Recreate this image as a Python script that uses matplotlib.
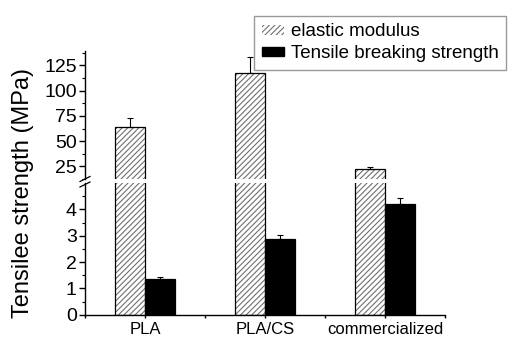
import matplotlib
matplotlib.use("Agg")
import matplotlib.pyplot as plt
from matplotlib.patches import Patch
from matplotlib.lines import Line2D
import numpy as np

plt.rcParams['font.family'] = ['Liberation Sans', 'DejaVu Sans']
plt.rcParams['hatch.linewidth'] = 0.8

categories = ["PLA", "PLA/CS", "commercialized"]
elastic_modulus = [64.5, 118.0, 22.0]
elastic_err = [8.5, 15.5, 2.8]
breaking_strength = [1.34, 2.88, 4.19]
breaking_err = [0.08, 0.15, 0.24]
series_names = ["elastic modulus", "Tensile breaking strength"]

W, H = 513, 337
fig = plt.figure(figsize=(W / 100, H / 100), dpi=100)

left = 85 / W
width = 360 / W
ax_top = fig.add_axes([left, (H - 179) / H, width, 128 / H])
ax_bot = fig.add_axes([left, (H - 314.7) / H, width, 131.7 / H])

x = np.arange(1, len(categories) + 1)
bw = 0.25
hatch_col = "#707070"

for ax in (ax_top, ax_bot):
    ax.bar(x - bw / 2, elastic_modulus, bw, color="white", edgecolor=hatch_col,
           hatch="//////", linewidth=0, zorder=2)
    ax.bar(x - bw / 2, elastic_modulus, bw, fill=False, edgecolor="black",
           linewidth=0.9, zorder=3)
    ax.bar(x + bw / 2, breaking_strength, bw, color="black", edgecolor="black",
           linewidth=0.9, zorder=3)
    ax.set_xlim(0.5, 3.5)
    for s in ("top", "right"):
        ax.spines[s].set_visible(False)
    ax.spines["left"].set_linewidth(1.0)
    ax.spines["bottom"].set_linewidth(1.0)
    ax.tick_params(axis="y", direction="out", length=4, width=1.0,
                   labelsize=14, pad=2)
    ax.tick_params(axis="y", which="minor", direction="out", length=2.5, width=0.8)

ax_top.errorbar(x - bw / 2, elastic_modulus, yerr=[[0] * 3, elastic_err],
                fmt="none", ecolor="black", elinewidth=0.8, capsize=2.5,
                capthick=0.8, zorder=4)
ax_bot.errorbar(x + bw / 2, breaking_strength, yerr=[[0] * 3, breaking_err],
                fmt="none", ecolor="black", elinewidth=0.8, capsize=2.5,
                capthick=0.8, zorder=4)

ax_top.set_ylim(15.3, 139.3)
ax_top.set_yticks([25, 50, 75, 100, 125])
ax_top.set_yticks(np.arange(12.5, 139, 12.5), minor=True)
ax_top.spines["bottom"].set_visible(False)
ax_top.tick_params(axis="x", which="both", bottom=False, labelbottom=False)

ax_bot.set_ylim(0, 5.0)
ax_bot.set_yticks([0, 1, 2, 3, 4])
ax_bot.set_yticks(np.arange(0.5, 5.0, 1.0), minor=True)
ax_bot.set_xticks(x)
ax_bot.set_xticklabels(categories, fontsize=12)
ax_bot.set_xticks([0.5, 1.5, 2.5, 3.5], minor=True)
ax_bot.tick_params(axis="x", which="major", direction="out", length=2.5, width=1.0, pad=3)
ax_bot.tick_params(axis="x", which="minor", direction="out", length=2.5, width=1.0)

# break marks on the left spine
for yy in (179, 184.5):
    fx = 85 / W
    fy = (H - yy) / H
    dx, dy = 5 / W, 2.5 / H
    fig.add_artist(Line2D([fx - dx, fx + dx], [fy - dy, fy + dy],
                          color="black", linewidth=0.9))

fig.text(23 / W, (H - 193) / H, "Tensilee strength (MPa)", rotation=90,
         ha="center", va="center", fontsize=17)

handles = [Patch(facecolor="white", edgecolor=hatch_col, hatch="//////", linewidth=0),
           Patch(facecolor="black", edgecolor="black")]
leg = fig.legend(handles, series_names, loc="upper left",
                 bbox_to_anchor=(254 / W, 1 - 16 / H), fontsize=13.5,
                 frameon=True, fancybox=False, edgecolor="#808080",
                 handlelength=1.2, handleheight=0.4, handletextpad=0.35,
                 borderpad=0.4, labelspacing=0.25, borderaxespad=0)
leg.get_frame().set_linewidth(1.0)

fig.savefig("out.png", dpi=100)
